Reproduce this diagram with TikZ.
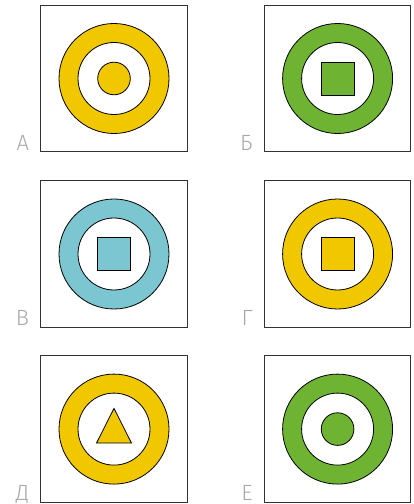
\documentclass[tikz,border=0pt]{standalone}
\usepackage{fontspec}
\newfontfamily\labelfont{Fira Sans Light}
\definecolor{targetyellow}{HTML}{F1C800}
\definecolor{targetgreen}{HTML}{6EB432}
\definecolor{targetblue}{HTML}{7CC6D2}
\definecolor{framegray}{HTML}{333333}
\definecolor{lettergray}{HTML}{A8A8A8}

\begin{document}
\begin{tikzpicture}[
  x=1pt,
  y=1pt,
  panel/.style={draw=framegray, line width=0.9pt, minimum size=146.5pt, inner sep=0pt},
  ring/.style={fill=#1, draw=black, line width=0.8pt, even odd rule},
  core/.style={fill=#1, draw=black, line width=0.8pt},
  letter/.style={anchor=base east, inner sep=0pt, text=lettergray,
                 font=\labelfont\fontsize{22}{22}\selectfont}
]
  % ---- page frame: 413 x 504 ----
  \useasboundingbox (0,0) rectangle (413,504);

  % ---- six panels: frame, ring and letter ----
  \foreach \name/\cx/\cy/\col/\lab in {
      a/114/425.5/targetyellow/А, b/337.6/425.5/targetgreen/Б,
      c/114/250/targetblue/В,     d/337.6/250/targetyellow/Г,
      e/114/74.9/targetyellow/Д,  f/337.6/74.9/targetgreen/Е}
  {
    \node[panel] (box\name) at (\cx,\cy) {};
    \draw[ring=\col] (box\name.center) circle[radius=55]
                     (box\name.center) circle[radius=36];
    \node[letter, xshift=-11pt, yshift=2pt] (lab\name) at (box\name.south west) {\lab};
  }

  % ---- centre pieces: discs ----
  \draw[core=targetyellow] (boxa.center) circle[radius=16.3];
  \draw[core=targetgreen]  (boxf.center) circle[radius=16.3];

  % ---- centre pieces: squares ----
  \draw[core=targetgreen]  (boxb.center) ++(-16.5,-16.5) rectangle ++(33,33);
  \draw[core=targetblue]   (boxc.center) ++(-16.5,-16.5) rectangle ++(33,33);
  \draw[core=targetyellow] (boxd.center) ++(-16.5,-16.5) rectangle ++(33,33);

  % ---- centre piece: triangle ----
  \draw[core=targetyellow] (boxe.center) ++(0,20.7) -- ++(17.5,-34.7) -- ++(-35,0) -- cycle;
\end{tikzpicture}
\end{document}
